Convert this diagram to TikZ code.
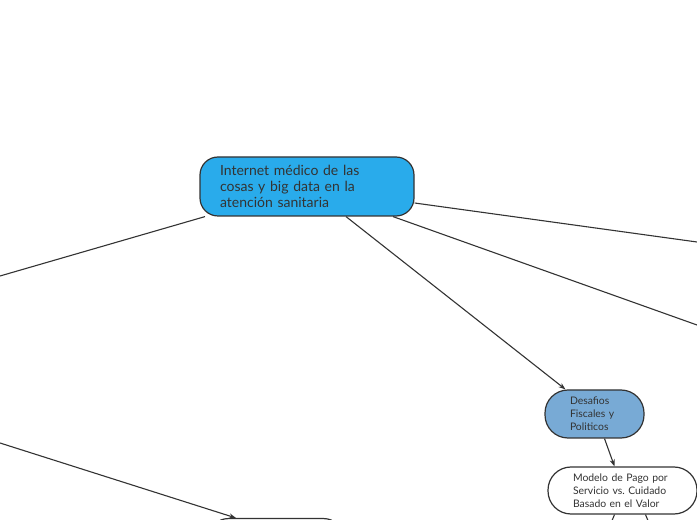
\documentclass[tikz,border=0pt]{standalone}
\usepackage{fontspec}
\setmainfont{Lato}
\usepackage{tikz}
\usetikzlibrary{arrows.meta, positioning, calc}
\definecolor{topicblue}{RGB}{41, 171, 235}
\definecolor{subblue}{RGB}{120, 170, 213}
\definecolor{edgegray}{RGB}{51, 51, 51}

\begin{document}
\begin{tikzpicture}[
    x=1pt, y=1pt,
    box/.style={draw=edgegray, line width=1.2pt, align=left, text=edgegray, inner ysep=0pt},
    mainbox/.style={box, fill=topicblue, rounded corners=18pt, text width=174pt, inner xsep=20pt, minimum height=59pt, font=\fontsize{14}{16}\selectfont},
    subbox/.style={box, rounded corners=23pt, inner xsep=25pt, minimum height=47pt, font=\fontsize{10.4}{12.8}\selectfont},
    arrow/.style={-{Stealth[length=7pt, width=5pt]}, line width=1.1pt, draw=edgegray},
    link/.style={line width=1.1pt, draw=edgegray}
]
\useasboundingbox (0,0) rectangle (697,520);

\node[mainbox] (main) at (307,333.5) {Internet médico de las\\cosas y big data en la\\atención sanitaria};

\node[subbox, fill=subblue, text width=49pt, minimum height=48pt] (desafios) at (594.5,106) {Desafios\\Fiscales y\\Politicos};
\node[subbox, fill=white, text width=99pt] (modelo) at (622.5,29.5) {Modelo de Pago por\\Servicio vs.\ Cuidado\\Basado en el Valor};

% partly hidden below the page
\node[box, fill=white, rounded corners=18pt, minimum width=132pt, minimum height=40pt, anchor=north] (abajo) at (276,2) {};

% loose ends outside the page
\coordinate (izq1) at (0,244);
\coordinate (izq2) at (0,77);
\coordinate (der1) at (697,278);
\coordinate (der2) at (697,195);
\coordinate (bajo1) at (604,-20);
\coordinate (bajo2) at (656,-20);

\draw[link] ([xshift=-102pt]main.south) -- (izq1);
\draw[arrow] ([xshift=39pt]main.south) -- ([xshift=-29pt]desafios.north);
\draw[link] ([xshift=86pt]main.south) -- (der2);
\draw[link] ([yshift=-16.5pt]main.east) -- (der1);
\draw[arrow] (izq2) -- ([xshift=-40pt]abajo.north);
\draw[arrow] ([xshift=10pt]desafios.south) -- ([xshift=-8pt]modelo.north);
\draw[link] ([xshift=-8pt]modelo.south) -- (bajo1);
\draw[link] ([xshift=23pt]modelo.south) -- (bajo2);

\end{tikzpicture}
\end{document}
